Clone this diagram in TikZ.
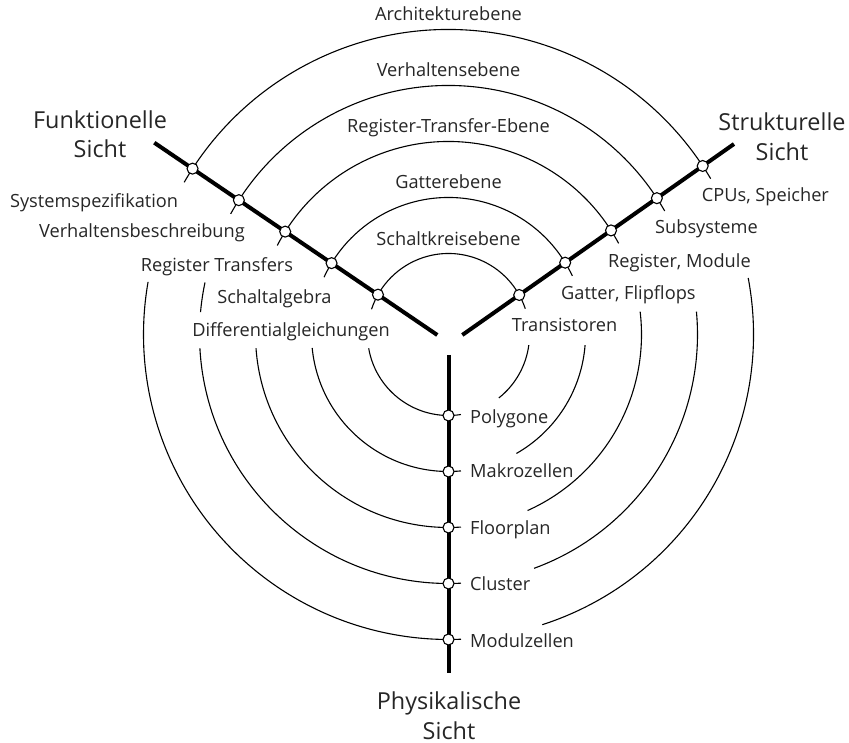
\documentclass[tikz,border=0pt]{standalone}
\usepackage{fontspec}
\setmainfont{Open Sans}
\begin{document}
\begin{tikzpicture}[x=1pt,y=1pt,
  ring/.style={line width=1.1pt, black},
  axis/.style={line width=4pt, black},
  joint/.style={circle, draw, fill=white, line width=1.1pt, minimum size=11pt, inner sep=0pt},
  lbl/.style={font=\fontsize{18.2}{22}\selectfont, text=black!85, inner sep=0pt},
  ttl/.style={font=\fontsize{23.4}{28}\selectfont, text=black!85, inner sep=0pt}]
\useasboundingbox (0,0) rectangle (849,743);
\coordinate (O) at (448.5,408.5);

% the three axes of the Y-chart
\coordinate (fTop) at (154.3,600.3);
\coordinate (fEnd) at (437.3,408);
\coordinate (sTop) at (734,599);
\coordinate (sEnd) at (462.3,408);
\coordinate (pTop) at (448.5,388);
\coordinate (pEnd) at (448.5,69.7);

% concentric rings: index / radius / angle on functional axis / angle on structural axis /
% start of lower-left part / start and end of lower-right part
\foreach \k/\r/\tl/\tr/\lla/\lra/\lrb in {
  1/81/150.55/29.19/189.8/308.42/352.5,
  2/137/148.61/31.61/185.65/299.73/355.57,
  3/193/147.79/32.63/184.1/294.18/366.82,
  4/249/147.35/33.19/183.17/290.1/365.28,
  5/305/147.06/33.54/170.06/287.9/370.67}{
  \pgfmathsetmacro\ua{\tr-15/\r*57.296}
  \pgfmathsetmacro\ub{\tl+16/\r*57.296}
  \pgfmathsetmacro\lle{270+12.5/\r*57.296}
  \draw[ring] ([shift={(\ua:\r)}]O) arc[start angle=\ua, end angle=\ub, radius=\r];
  \draw[ring] ([shift={(\lla:\r)}]O) arc[start angle=\lla, end angle=\lle, radius=\r];
  \draw[ring] ([shift={(\lra:\r)}]O) arc[start angle=\lra, end angle=\lrb, radius=\r];
}
% short piece of the fourth ring between two behavioural labels
\draw[ring] ([shift={(167.95:249)}]O) arc[start angle=167.95, end angle=174.83, radius=249];

\draw[axis] (fTop) -- (fEnd);
\draw[axis] (sTop) -- (sEnd);
\draw[axis] (pTop) -- (pEnd);

% joints where the rings cross the axes
\foreach \k/\r/\tl/\tr in {1/81/150.55/29.19, 2/137/148.61/31.61, 3/193/147.79/32.63,
                          4/249/147.35/33.19, 5/305/147.06/33.54}{
  \node[joint] (f\k) at ([shift={(\tl:\r)}]O) {};
  \node[joint] (s\k) at ([shift={(\tr:\r)}]O) {};
  \node[joint] (p\k) at ([shift={(270:\r)}]O) {};
}

% abstraction levels
\node[lbl, anchor=base] (lev5) at (448.5,722) {Architekturebene};
\node[lbl, anchor=base] (lev4) at (448.5,666) {Verhaltensebene};
\node[lbl, anchor=base] (lev3) at (448.5,610) {Register-Transfer-Ebene};
\node[lbl, anchor=base] (lev2) at (448.5,554) {Gatterebene};
\node[lbl, anchor=base] (lev1) at (448.5,497.5) {Schaltkreisebene};

% functional view
\node[lbl, anchor=base east] (fl5) at (178.3,535.5) {Systemspezifikation};
\node[lbl, anchor=base east] (fl4) at (245,505) {Verhaltensbeschreibung};
\node[lbl, anchor=base east] (fl3) at (293.3,471.3) {Register Transfers};
\node[lbl, anchor=base east] (fl2) at (331.7,439.7) {Schaltalgebra};
\node[lbl, anchor=base east] (fl1) at (390,406.3) {Differentialgleichungen};

% structural view
\node[lbl, anchor=base west] (sl5) at (701.7,541.3) {CPUs, Speicher};
\node[lbl, anchor=base west] (sl4) at (655,509.7) {Subsysteme};
\node[lbl, anchor=base west] (sl3) at (608,475.7) {Register, Module};
\node[lbl, anchor=base west] (sl2) at (561,443.7) {Gatter, Flipflops};
\node[lbl, anchor=base west] (sl1) at (511.7,411.3) {Transistoren};

% physical view
\node[lbl, anchor=base west] (pl1) at (470,319.4) {Polygone};
\node[lbl, anchor=base west] (pl2) at (470,265) {Makrozellen};
\node[lbl, anchor=base west] (pl3) at (470,208.4) {Floorplan};
\node[lbl, anchor=base west] (pl4) at (470,152.7) {Cluster};
\node[lbl, anchor=base west] (pl5) at (470,95) {Modulzellen};

% view titles
\node[ttl, anchor=base] (ftA) at (100,614.6) {Funktionelle};
\node[ttl, anchor=base] (ftB) at (100,585) {Sicht};
\node[ttl, anchor=base] (stA) at (782,612) {Strukturelle};
\node[ttl, anchor=base] (stB) at (782,582.5) {Sicht};
\node[ttl, anchor=base] (ptA) at (449,33) {Physikalische};
\node[ttl, anchor=base] (ptB) at (449,3.5) {Sicht};
\end{tikzpicture}
\end{document}
